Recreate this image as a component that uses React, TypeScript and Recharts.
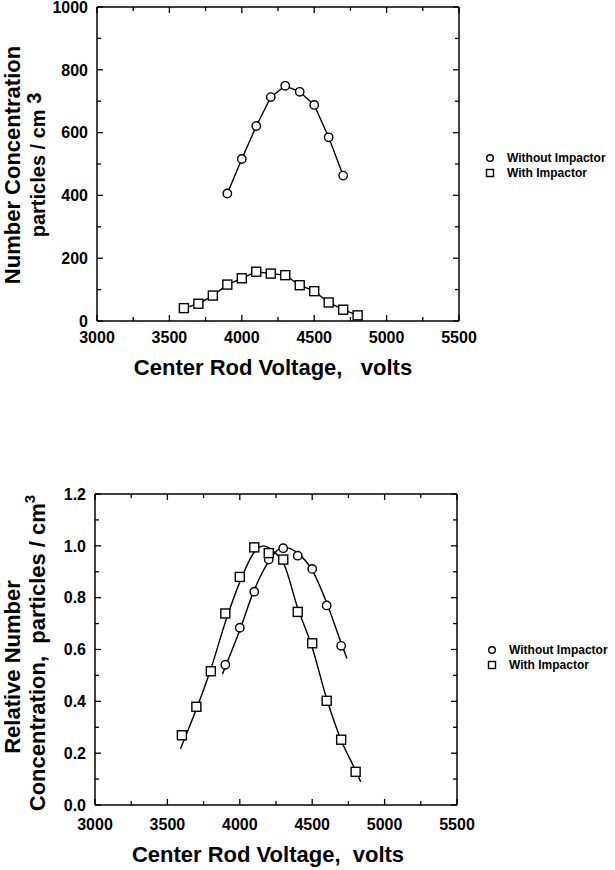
import React from 'react';
import { ComposedChart, Line, Scatter, XAxis, YAxis } from 'recharts';

// center rod voltage (volts) for each series
const voltsWithout = [3900, 4000, 4100, 4200, 4300, 4400, 4500, 4600, 4700];
const voltsWith = [3600, 3700, 3800, 3900, 4000, 4100, 4200, 4300, 4400, 4500, 4600, 4700, 4800];

// number concentration, particles / cm3
const countWithout = [406, 516, 621, 713, 749, 730, 688, 585, 463];
const countWith = [41, 55, 81, 116, 136, 157, 151, 146, 114, 95, 59, 36, 18];

// relative number concentration
const relWithout = [0.541, 0.684, 0.823, 0.947, 0.991, 0.962, 0.911, 0.77, 0.614];
const relWith = [0.269, 0.379, 0.516, 0.739, 0.88, 0.994, 0.972, 0.947, 0.745, 0.624, 0.402, 0.252, 0.128];

// fitted curves drawn on the lower plot
const fitVoltsWithout = [3880, 4000, 4100, 4200, 4300, 4400, 4500, 4600, 4700, 4740];
const fitWithout = [0.505, 0.675, 0.83, 0.94, 0.995, 0.972, 0.906, 0.78, 0.625, 0.565];
const fitVoltsWith = [3590, 3700, 3800, 3900, 4000, 4100, 4160, 4250, 4300, 4400, 4500, 4600, 4700, 4800, 4835];
const fitWith = [0.217, 0.37, 0.525, 0.705, 0.86, 0.975, 1.0, 0.97, 0.935, 0.76, 0.608, 0.41, 0.25, 0.133, 0.09];

const xTicks = [3000, 3250, 3500, 3750, 4000, 4250, 4500, 4750, 5000, 5250, 5500];
const xLabels = [3000, 3500, 4000, 4500, 5000, 5500];
const countTicks = [0, 100, 200, 300, 400, 500, 600, 700, 800, 900, 1000];
const countLabels = [0, 200, 400, 600, 800, 1000];
const relTicks = [0, 0.1, 0.2, 0.3, 0.4, 0.5, 0.6, 0.7, 0.8, 0.9, 1.0, 1.1, 1.2];
const relLabels = [0, 0.2, 0.4, 0.6, 0.8, 1.0, 1.2];

const legendNames = ['Without Impactor', 'With Impactor'];

const FONT = '"Liberation Sans", Arial, Helvetica, sans-serif';

const pairs = (xs: number[], ys: number[]) => xs.map((x, i) => ({ x, y: ys[i] }));

const isLabel = (list: number[], v: number) => list.some((l) => Math.abs(l - v) < 1e-6);

const makeXTick = (side: 'bottom' | 'top', labelGap = 22) => (props: any) => {
  const { x, y, payload } = props;
  const v = payload.value;
  const len = isLabel(xLabels, v) ? 6 : 4;
  const dir = side === 'bottom' ? -1 : 1;
  return (
    <g>
      <line x1={x} x2={x} y1={y} y2={y + dir * len} stroke="#000" strokeWidth={1.3} />
      {side === 'bottom' && isLabel(xLabels, v) && (
        <text x={x} y={y + labelGap} textAnchor="middle" fontFamily={FONT} fontWeight="bold" fontSize={16} fill="#000">
          {v}
        </text>
      )}
    </g>
  );
};

const makeYTick = (side: 'left' | 'right', labels: number[], fmt: (v: number) => string) => (props: any) => {
  const { x, y, payload } = props;
  const v = payload.value;
  const len = isLabel(labels, v) ? 6 : 4;
  const dir = side === 'left' ? 1 : -1;
  return (
    <g>
      <line x1={x} x2={x + dir * len} y1={y} y2={y} stroke="#000" strokeWidth={1.3} />
      {side === 'left' && isLabel(labels, v) && (
        <text x={x - 9} y={y} dy="0.36em" textAnchor="end" fontFamily={FONT} fontWeight="bold" fontSize={16} fill="#000">
          {fmt(v)}
        </text>
      )}
    </g>
  );
};

const Circle = (props: any) => (
  <circle cx={props.cx} cy={props.cy} r={4.2} fill="#fff" stroke="#000" strokeWidth={1.4} />
);
const Square = (props: any) => (
  <rect x={props.cx - 4.5} y={props.cy - 4.5} width={9} height={9} fill="#fff" stroke="#000" strokeWidth={1.4} />
);

const axisLine = { stroke: '#000', strokeWidth: 1.5 };

// axes are 1px thick so they still render; ticks sit on the frame and point inward
const axes = (yTicks: number[], yLabels: number[], yMax: number, fmt: (v: number) => string, labelGap: number) => [
  <XAxis key="xb" xAxisId={0} type="number" dataKey="x" domain={[3000, 5500]} ticks={xTicks} interval={0}
    height={1} tickSize={0} tickMargin={0} tickLine={false} axisLine={axisLine} tick={makeXTick('bottom', labelGap)} allowDataOverflow />,
  <XAxis key="xt" xAxisId="top" orientation="top" type="number" dataKey="x" domain={[3000, 5500]} ticks={xTicks} interval={0}
    height={1} tickSize={0} tickMargin={0} tickLine={false} axisLine={axisLine} tick={makeXTick('top')} allowDataOverflow />,
  <YAxis key="yl" yAxisId={0} type="number" dataKey="y" domain={[0, yMax]} ticks={yTicks} interval={0}
    width={1} tickSize={0} tickMargin={0} tickLine={false} axisLine={axisLine} tick={makeYTick('left', yLabels, fmt)} allowDataOverflow />,
  <YAxis key="yr" yAxisId="right" orientation="right" type="number" dataKey="y" domain={[0, yMax]} ticks={yTicks} interval={0}
    width={1} tickSize={0} tickMargin={0} tickLine={false} axisLine={axisLine} tick={makeYTick('right', yLabels, fmt)} allowDataOverflow />,
];

const textStyle = { fontFamily: FONT, fontWeight: 'bold' as const, fill: '#000' };

const LegendBlock = ({ x, y }: { x: number; y: number }) => (
  <g>
    <circle cx={x} cy={y} r={3.3} fill="#fff" stroke="#000" strokeWidth={1.4} />
    <text x={x + 17} y={y} dy="0.36em" fontSize={12} {...textStyle}>{legendNames[0]}</text>
    <rect x={x - 3.5} y={y + 15 - 3.5} width={7} height={7} fill="#fff" stroke="#000" strokeWidth={1.4} />
    <text x={x + 17} y={y + 15} dy="0.36em" fontSize={12} {...textStyle}>{legendNames[1]}</text>
  </g>
);

const App: React.FC = () => {
  const fmtInt = (v: number) => String(v);
  const fmtDec = (v: number) => v.toFixed(1);
  return (
    <div style={{ position: 'absolute', left: 0, top: 0, width: 615, height: 870, background: '#fff' }}>
      <div style={{ position: 'absolute', left: 0, top: 0 }}>
        <ComposedChart width={615} height={400} margin={{ top: 6, right: 155, bottom: 78, left: 96 }} style={{ overflow: 'visible' }}>
          {axes(countTicks, countLabels, 1000, fmtInt, 22)}
          <Line data={pairs(voltsWithout, countWithout)} dataKey="y" type="linear" stroke="#000" strokeWidth={1.4} dot={false} isAnimationActive={false} />
          <Line data={pairs(voltsWith, countWith)} dataKey="y" type="linear" stroke="#000" strokeWidth={1.4} dot={false} isAnimationActive={false} />
          <Scatter data={pairs(voltsWithout, countWithout)} dataKey="y" shape={Circle} isAnimationActive={false} />
          <Scatter data={pairs(voltsWith, countWith)} dataKey="y" shape={Square} isAnimationActive={false} />
        </ComposedChart>
      </div>
      <div style={{ position: 'absolute', left: 0, top: 430 }}>
        <ComposedChart width={615} height={440} margin={{ top: 63, right: 157, bottom: 64, left: 94 }} style={{ overflow: 'visible' }}>
          {axes(relTicks, relLabels, 1.2, fmtDec, 25)}
          <Line data={pairs(fitVoltsWithout, fitWithout)} dataKey="y" type="monotone" stroke="#000" strokeWidth={1.4} dot={false} isAnimationActive={false} />
          <Line data={pairs(fitVoltsWith, fitWith)} dataKey="y" type="monotone" stroke="#000" strokeWidth={1.4} dot={false} isAnimationActive={false} />
          <Scatter data={pairs(voltsWithout, relWithout)} dataKey="y" shape={Circle} isAnimationActive={false} />
          <Scatter data={pairs(voltsWith, relWith)} dataKey="y" shape={Square} isAnimationActive={false} />
        </ComposedChart>
      </div>
      <svg width={615} height={870} style={{ position: 'absolute', left: 0, top: 0, pointerEvents: 'none' }}>
        {/* top plot titles */}
        <text transform="translate(12,165) rotate(-90)" textAnchor="middle" dominantBaseline="central" fontSize={22} {...textStyle}>
          Number Concentration
        </text>
        <text transform="translate(38,165) rotate(-90)" textAnchor="middle" dominantBaseline="central" fontSize={20} {...textStyle}>
          particles / cm <tspan dy="-4">3</tspan>
        </text>
        <text x={273} y={375} textAnchor="middle" fontSize={22} {...textStyle}>
          {'Center Rod Voltage,\u00a0\u00a0\u00a0volts'}
        </text>
        <LegendBlock x={490} y={158} />

        {/* bottom plot titles */}
        <text transform="translate(12,667) rotate(-90)" textAnchor="middle" dominantBaseline="central" fontSize={22} {...textStyle}>
          Relative Number
        </text>
        <text transform="translate(37,653) rotate(-90)" textAnchor="middle" dominantBaseline="central" fontSize={22} {...textStyle}>
          {'Concentration,\u00a0\u00a0particles / cm'}
          <tspan fontSize={15} dy="-8">3</tspan>
        </text>
        <text x={268} y={862} textAnchor="middle" fontSize={22} {...textStyle}>
          {'Center Rod Voltage,\u00a0\u00a0volts'}
        </text>
        <LegendBlock x={492} y={650} />
      </svg>
    </div>
  );
};

export default App;
